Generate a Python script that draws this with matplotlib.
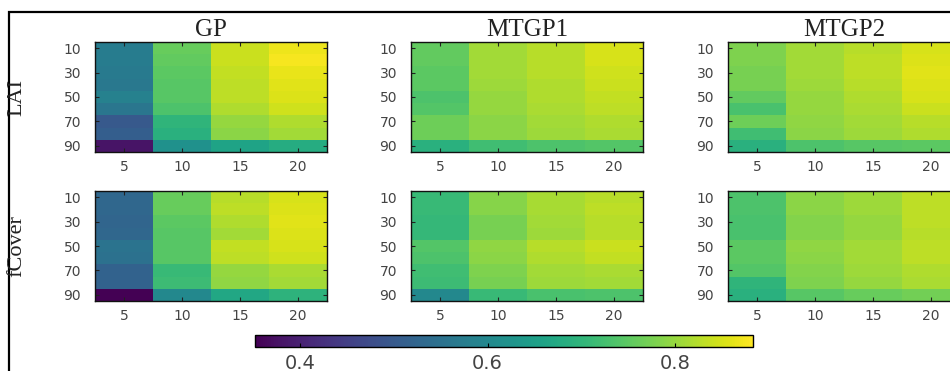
import numpy as np
import matplotlib
matplotlib.use("Agg")
import matplotlib.pyplot as plt
from matplotlib.patches import Rectangle

# Grid: rows = percentage (10..90), columns = sample size (5..20)
pct = [10, 20, 30, 40, 50, 60, 70, 80, 90]
n_samples = [5, 10, 15, 20]
models = ["GP", "MTGP1", "MTGP2"]
variables = ["LAI", "fCover"]

gp_lai = [
    [0.575, 0.760, 0.840, 0.870],
    [0.575, 0.755, 0.840, 0.875],
    [0.570, 0.750, 0.835, 0.865],
    [0.565, 0.745, 0.830, 0.860],
    [0.585, 0.745, 0.830, 0.855],
    [0.560, 0.735, 0.820, 0.845],
    [0.500, 0.700, 0.800, 0.820],
    [0.510, 0.690, 0.790, 0.810],
    [0.380, 0.620, 0.660, 0.680],
]
mtgp1_lai = [
    [0.755, 0.810, 0.825, 0.850],
    [0.755, 0.810, 0.825, 0.850],
    [0.750, 0.810, 0.825, 0.845],
    [0.750, 0.805, 0.820, 0.840],
    [0.735, 0.800, 0.820, 0.835],
    [0.740, 0.800, 0.815, 0.830],
    [0.765, 0.790, 0.810, 0.820],
    [0.765, 0.790, 0.805, 0.815],
    [0.690, 0.720, 0.735, 0.740],
]
mtgp2_lai = [
    [0.780, 0.810, 0.825, 0.850],
    [0.780, 0.810, 0.830, 0.855],
    [0.775, 0.810, 0.830, 0.860],
    [0.775, 0.805, 0.825, 0.855],
    [0.755, 0.800, 0.820, 0.850],
    [0.730, 0.800, 0.815, 0.840],
    [0.765, 0.795, 0.810, 0.825],
    [0.720, 0.790, 0.805, 0.820],
    [0.690, 0.735, 0.745, 0.750],
]
gp_fcover = [
    [0.530, 0.760, 0.825, 0.850],
    [0.530, 0.760, 0.830, 0.855],
    [0.525, 0.750, 0.820, 0.860],
    [0.530, 0.745, 0.810, 0.855],
    [0.555, 0.745, 0.835, 0.850],
    [0.550, 0.745, 0.830, 0.845],
    [0.520, 0.710, 0.800, 0.815],
    [0.520, 0.715, 0.795, 0.810],
    [0.350, 0.600, 0.670, 0.695],
]
mtgp1_fcover = [
    [0.710, 0.787, 0.814, 0.825],
    [0.710, 0.787, 0.814, 0.830],
    [0.705, 0.775, 0.810, 0.825],
    [0.705, 0.775, 0.805, 0.825],
    [0.740, 0.795, 0.825, 0.840],
    [0.735, 0.790, 0.820, 0.835],
    [0.720, 0.780, 0.810, 0.815],
    [0.715, 0.775, 0.805, 0.810],
    [0.600, 0.710, 0.730, 0.735],
]
mtgp2_fcover = [
    [0.735, 0.790, 0.805, 0.830],
    [0.735, 0.790, 0.805, 0.830],
    [0.730, 0.785, 0.800, 0.830],
    [0.730, 0.785, 0.800, 0.825],
    [0.750, 0.795, 0.810, 0.830],
    [0.750, 0.790, 0.810, 0.830],
    [0.740, 0.785, 0.805, 0.820],
    [0.700, 0.780, 0.800, 0.815],
    [0.690, 0.745, 0.760, 0.770],
]

grids = [
    [gp_lai, mtgp1_lai, mtgp2_lai],
    [gp_fcover, mtgp1_fcover, mtgp2_fcover],
]
vmin, vmax = 0.352, 0.883
cbar_ticks = [0.4, 0.6, 0.8]

W, H = 950, 371
fig = plt.figure(figsize=(W / 100, H / 100), dpi=100)

serif = ["Liberation Serif", "DejaVu Serif"]
tick_color = "#444444"

col_left = [95, 411, 728]
row_top = [42, 191]
ax_w, ax_h = 232, 110

dx = (n_samples[1] - n_samples[0]) / 2
dy = (pct[1] - pct[0]) / 2
extent = [n_samples[0] - dx, n_samples[-1] + dx, pct[-1] + dy, pct[0] - dy]

im = None
for r in range(2):
    for c in range(3):
        ax = fig.add_axes([col_left[c] / W, 1 - (row_top[r] + ax_h) / H, ax_w / W, ax_h / H])
        im = ax.imshow(np.array(grids[r][c]), cmap="viridis", vmin=vmin, vmax=vmax,
                       extent=extent, aspect="auto", interpolation="nearest")
        ax.set_xticks(n_samples)
        ax.set_yticks(pct[::2])
        ax.tick_params(direction="in", top=True, right=True, length=3, width=0.8,
                       labelsize=10, labelcolor=tick_color, color="#222222")
        ax.tick_params(axis="y", pad=10)
        ax.tick_params(axis="x", pad=6)
        for s in ax.spines.values():
            s.set_linewidth(1.0)
            s.set_color("#111111")
        if r == 0:
            ax.set_title(models[c], fontsize=18, family=serif, color="#222222", pad=4)
        if c == 0:
            fig.text(17 / W, 1 - (row_top[r] + ax_h / 2) / H, variables[r], rotation=90,
                     ha="center", va="center", fontsize=16, family=serif, color="#222222")

# shared colorbar along the bottom
cax = fig.add_axes([255 / W, 1 - 347 / H, 498 / W, 12 / H])
cb = fig.colorbar(im, cax=cax, orientation="horizontal", ticks=cbar_ticks)
cb.ax.tick_params(direction="in", length=3, labelsize=14, labelcolor=tick_color, pad=5)
cb.outline.set_linewidth(1.0)
cb.ax.set_xticklabels([f"{t:.1f}" for t in cbar_ticks])

# frame around the whole figure
fig.add_artist(Rectangle((8.5 / W, -0.2), 1.3, 1.2 - 11.5 / H, transform=fig.transFigure,
                         fill=False, edgecolor="black", linewidth=1.6))

fig.savefig("out.png", dpi=100)
